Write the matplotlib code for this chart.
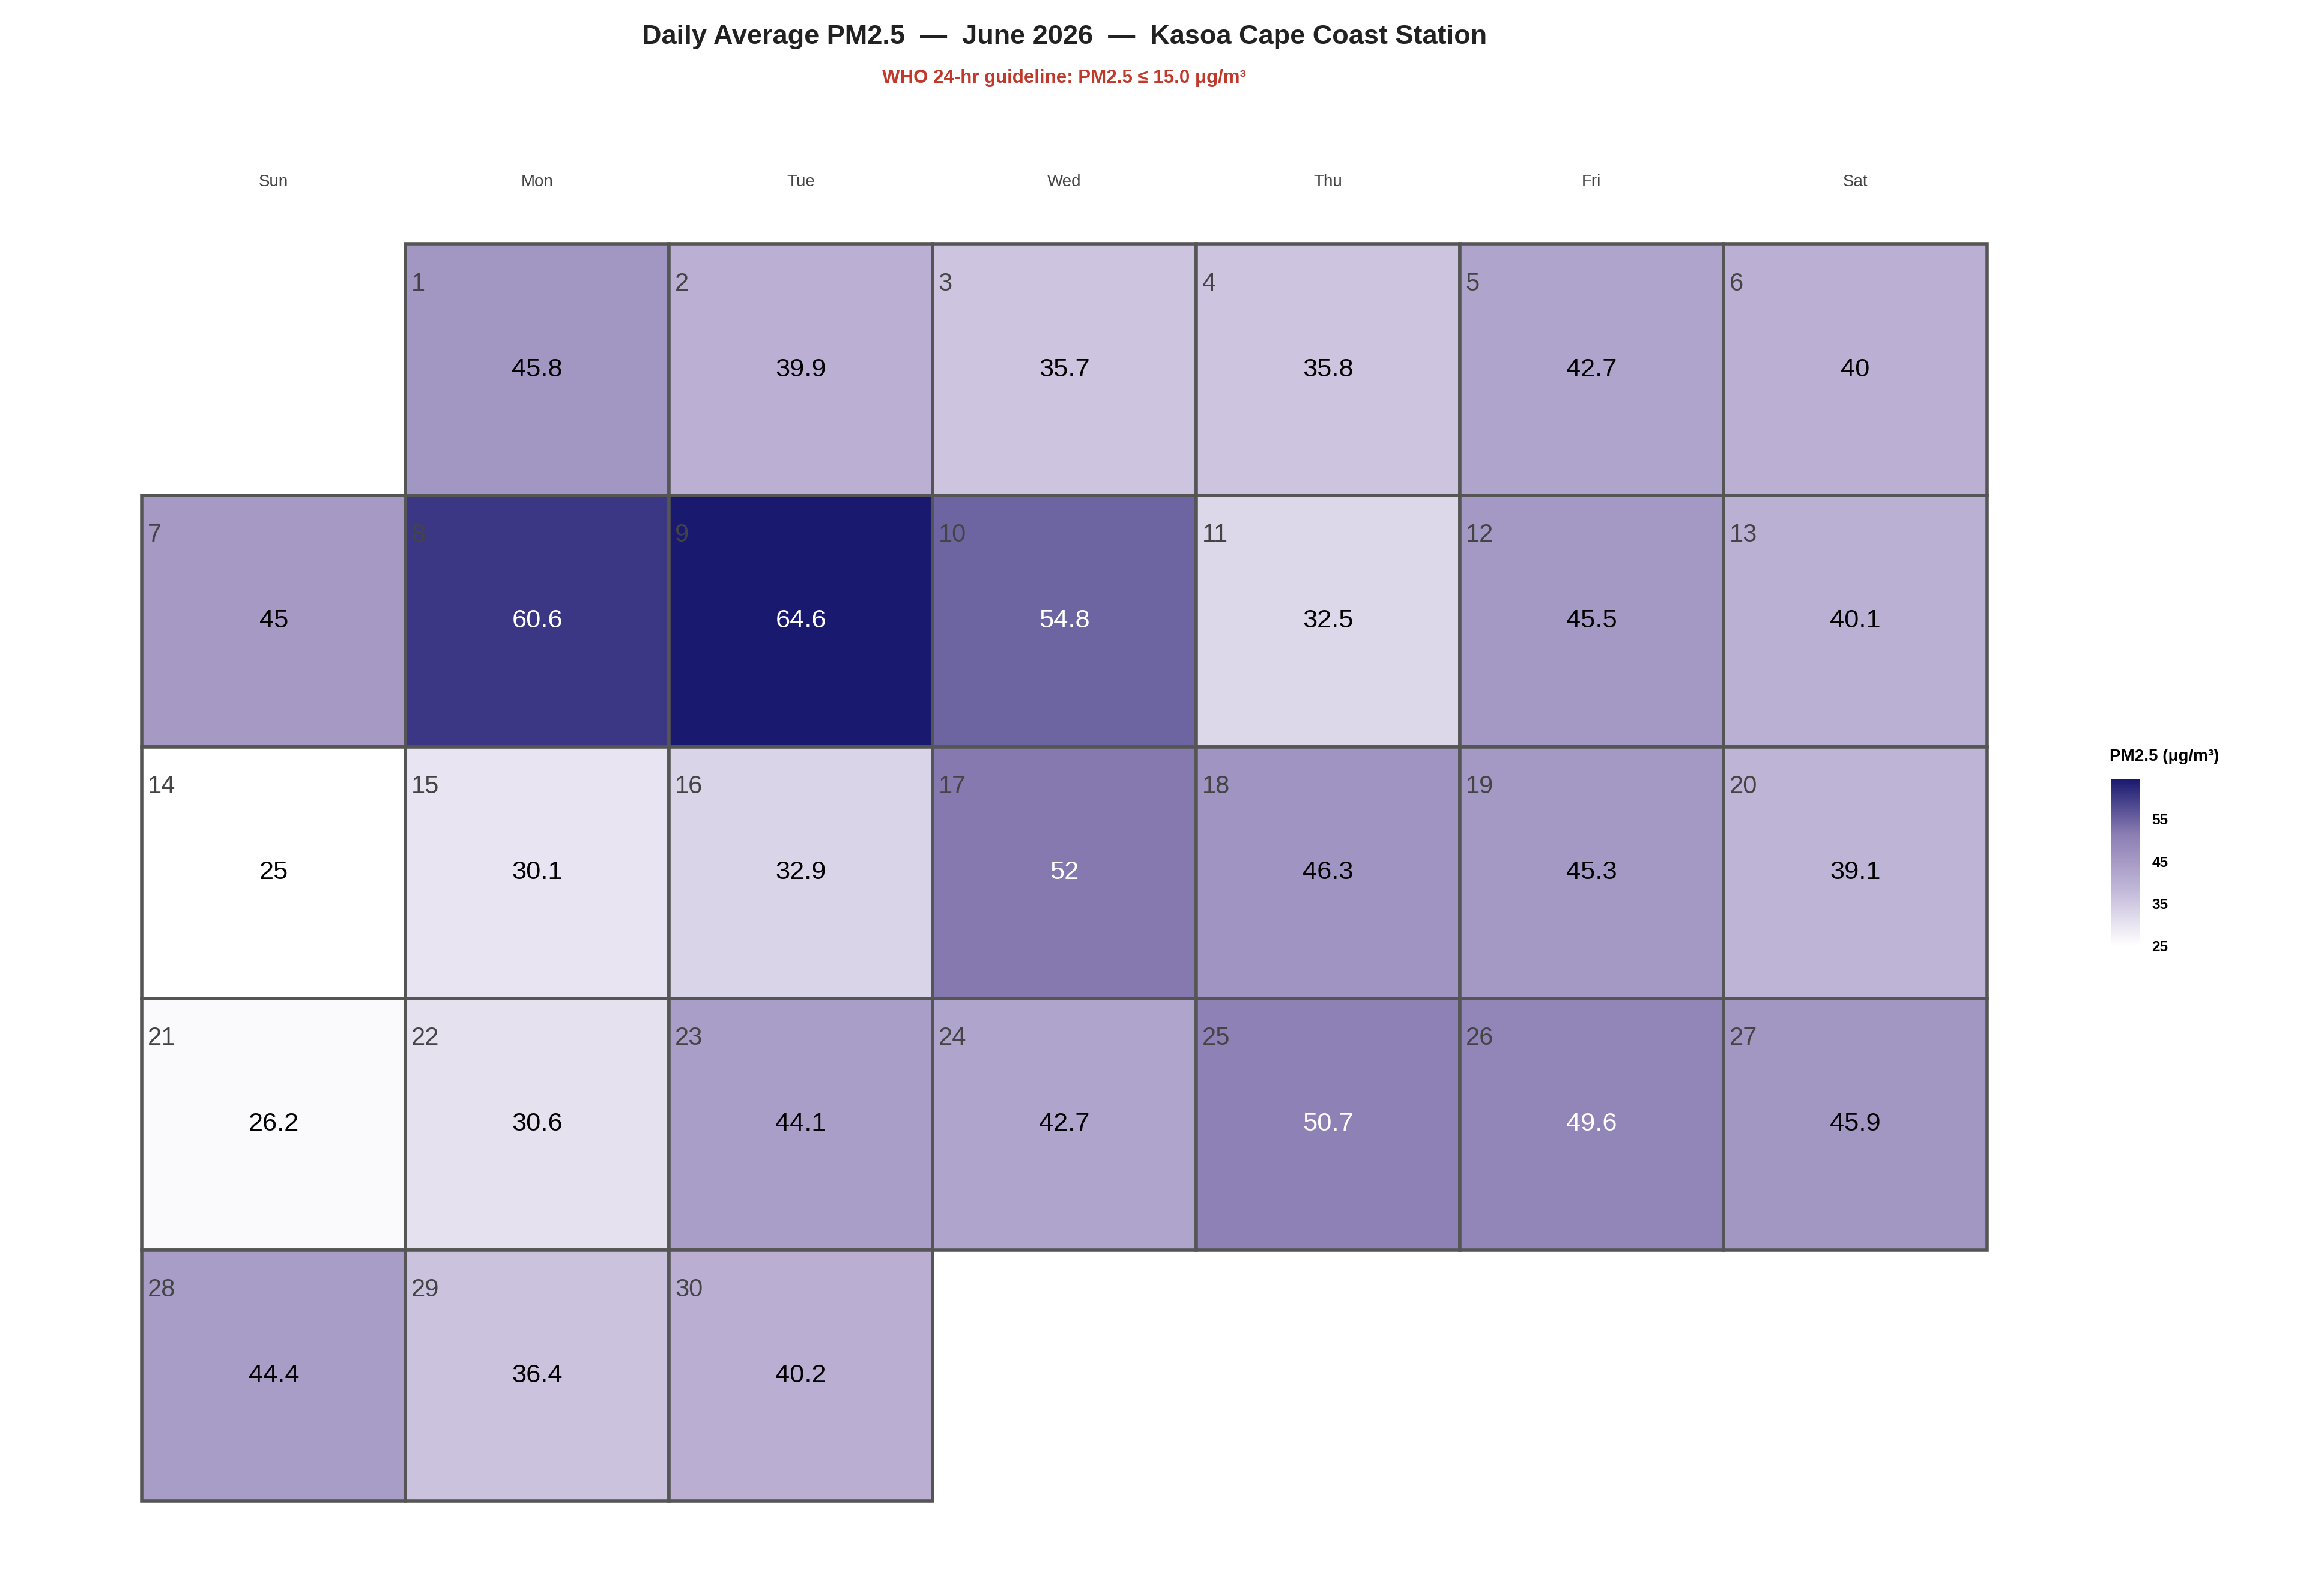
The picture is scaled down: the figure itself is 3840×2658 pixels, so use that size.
import numpy as np
import matplotlib.pyplot as plt
from matplotlib.patches import Rectangle
from matplotlib.colors import LinearSegmentedColormap, Normalize
from matplotlib.colorbar import ColorbarBase

plt.rcParams['font.family'] = ['Liberation Sans', 'DejaVu Sans']

weekdays = ['Sun', 'Mon', 'Tue', 'Wed', 'Thu', 'Fri', 'Sat']
days = list(range(1, 31))
pm25 = [45.8, 39.9, 35.7, 35.8, 42.7, 40,
        45, 60.6, 64.6, 54.8, 32.5, 45.5, 40.1,
        25, 30.1, 32.9, 52, 46.3, 45.3, 39.1,
        26.2, 30.6, 44.1, 42.7, 50.7, 49.6, 45.9,
        44.4, 36.4, 40.2]
first_weekday = 1  # June 1 2026 is a Monday

cmap = LinearSegmentedColormap.from_list('pm', ['#ffffff', '#c2b8d9', '#8b7eb3', '#191970'])
norm = Normalize(vmin=min(pm25), vmax=max(pm25))

fig = plt.figure(figsize=(15.36, 10.632), dpi=250)
ax = fig.add_axes([0, 0, 1, 1])
ax.set_xlim(0, 1560)
ax.set_ylim(1080, 0)
ax.axis('off')

x0, y0, cw, rh = 96, 165, 178.3, 170.2
for d, v in zip(days, pm25):
    idx = d - 1 + first_weekday
    col, row = idx % 7, idx // 7
    x, y = x0 + col * cw, y0 + row * rh
    ax.add_patch(Rectangle((x, y), cw, rh, facecolor=cmap(norm(v)),
                           edgecolor='#555555', linewidth=1.6))
    ax.text(x + 4, y + 27, str(d), fontsize=12, color='#444444', va='center', ha='left')
    ax.text(x + cw / 2, y + rh / 2, f'{v:g}', fontsize=12.5, va='center', ha='center',
            color='white' if v > 48 else 'black')

for i, w in enumerate(weekdays):
    ax.text(x0 + (i + 0.5) * cw, 123, w, fontsize=8, color='#444444', ha='center', va='center')

ax.text(720, 25, 'Daily Average PM2.5  \u2014  June 2026  \u2014  Kasoa Cape Coast Station',
        fontsize=13, fontweight='bold', ha='center', va='center', color='#222222')
ax.text(720, 53, 'WHO 24-hr guideline: PM2.5 \u2264 15.0 \u03bcg/m\u00b3',
        fontsize=9, fontweight='bold', ha='center', va='center', color='#c0392b')

ax.text(1427, 512, 'PM2.5 (\u03bcg/m\u00b3)', fontsize=8, fontweight='bold', ha='left', va='center')
cax = fig.add_axes([1428 / 1560, 1 - 640 / 1080, 20 / 1560, 113 / 1080])
cb = ColorbarBase(cax, cmap=cmap, norm=norm, ticks=[25, 35, 45, 55])
cb.outline.set_visible(False)
cax.tick_params(labelsize=7, length=2, color='white')
for t in cax.get_yticklabels():
    t.set_fontweight('bold')

fig.savefig('out.png', dpi=250, facecolor='white')
